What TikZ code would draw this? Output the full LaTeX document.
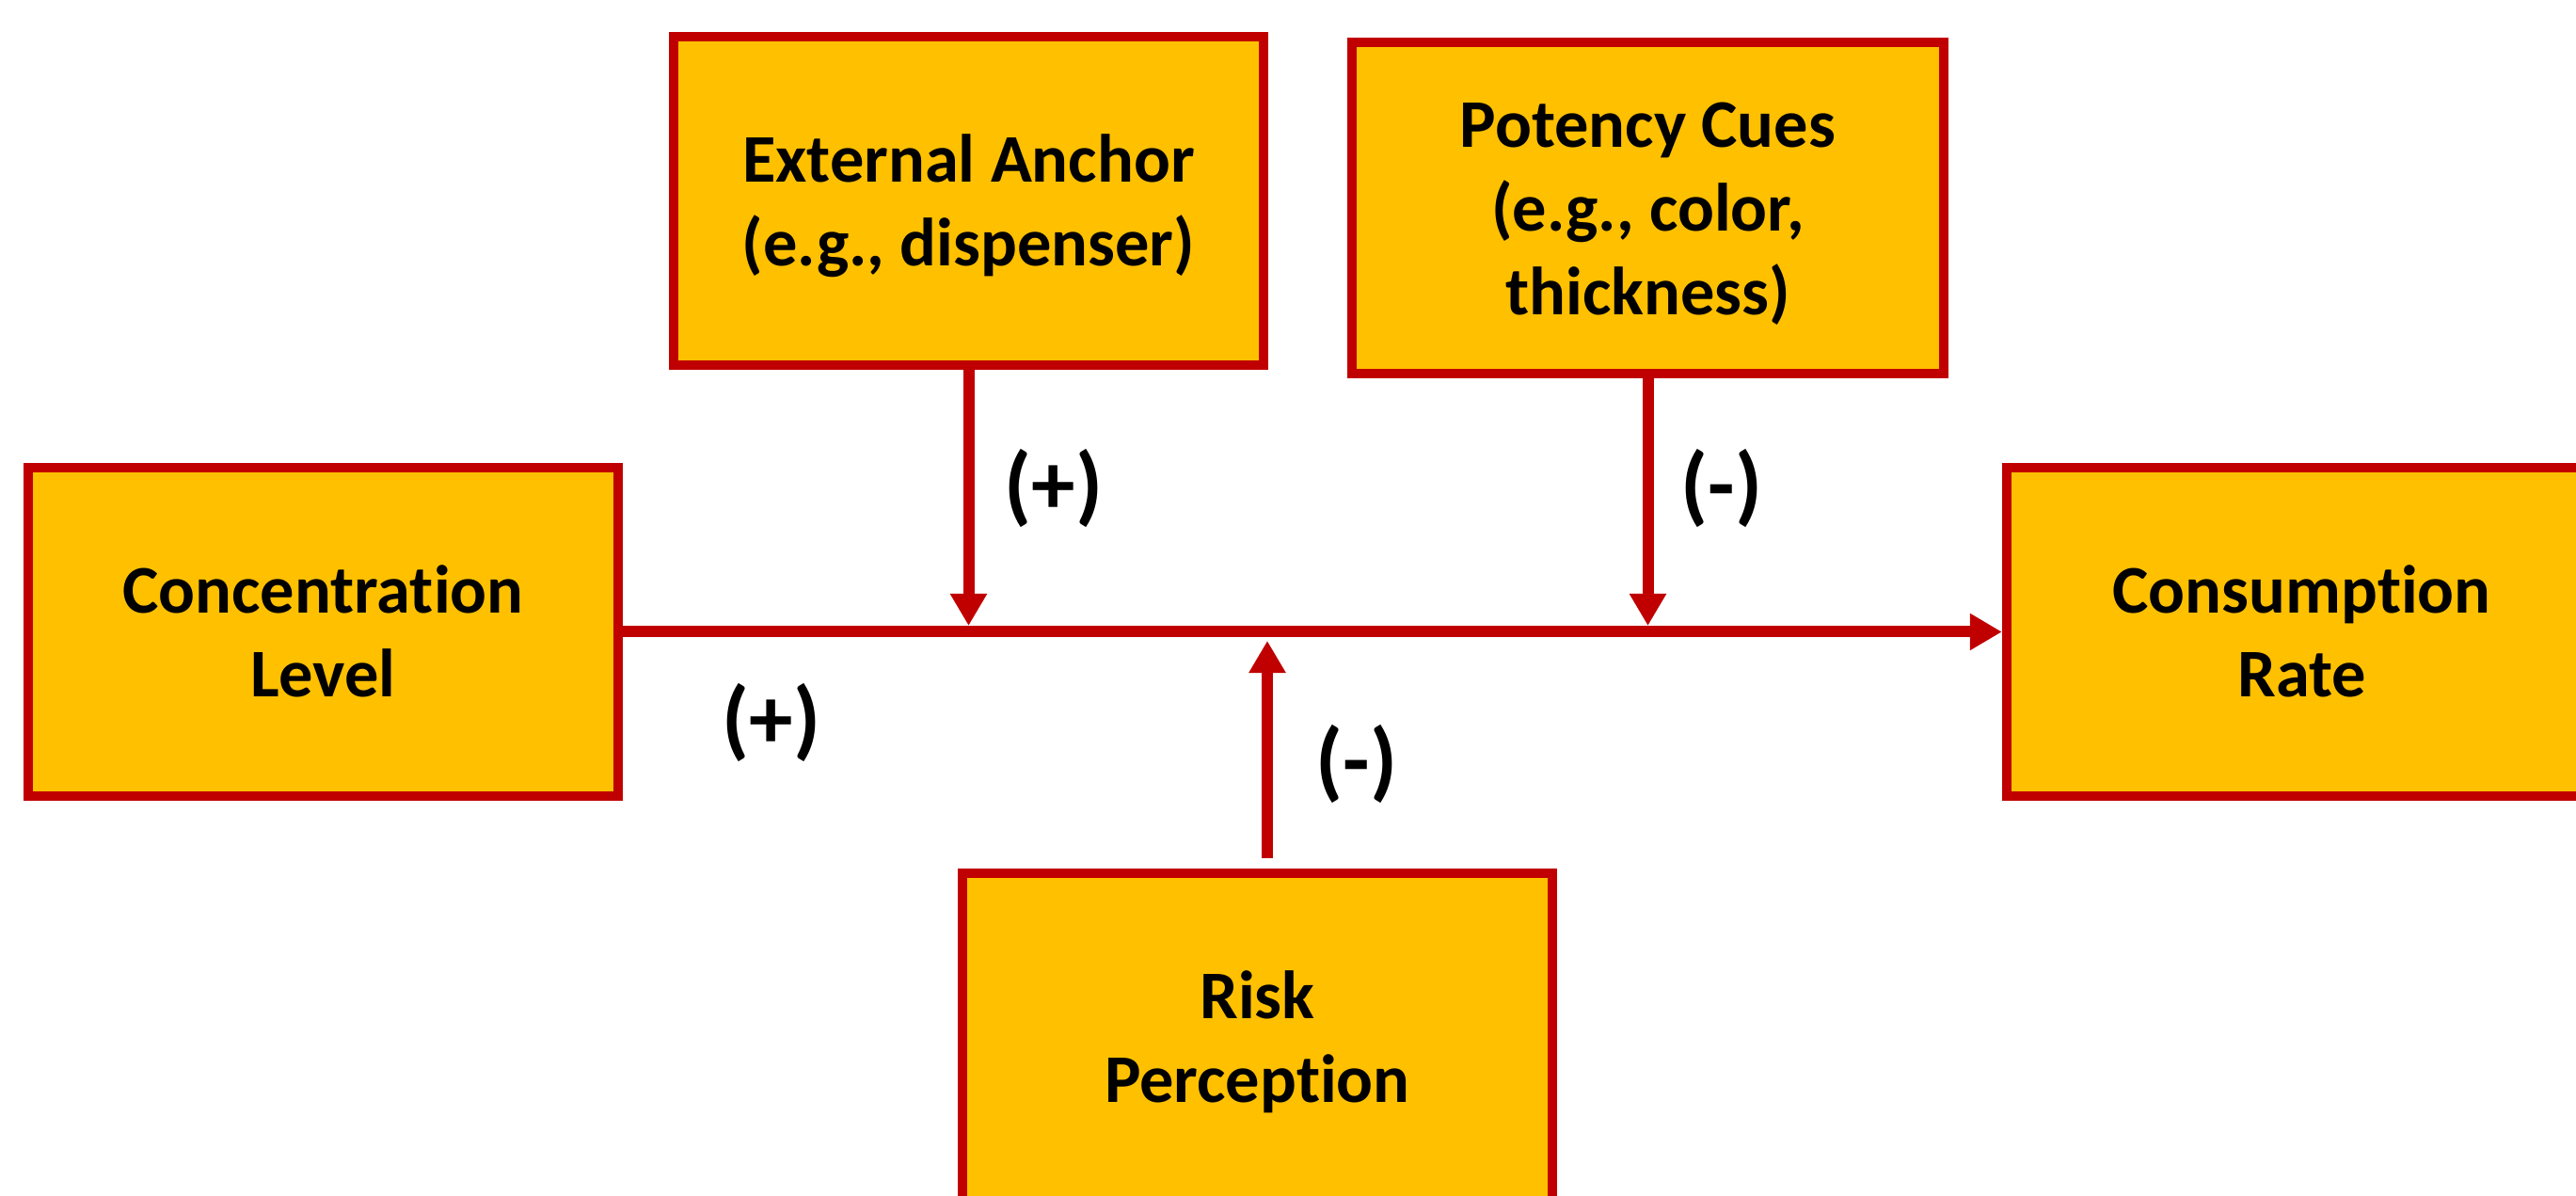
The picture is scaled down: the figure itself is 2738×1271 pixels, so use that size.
\documentclass[tikz,border=0pt]{standalone}
\usepackage{fontspec}
\setmainfont{Carlito}[Ligatures=NoCommon]
\usetikzlibrary{arrows.meta,calc}
\definecolor{bordred}{HTML}{C00000}
\definecolor{boxgold}{HTML}{FFC000}
\newcommand\sT{\rule{0pt}{0.95em}}
\newcommand\sB{\rule[-0.27em]{0pt}{0.27em}}
\begin{document}
\begin{tikzpicture}[x=0.01cm,y=-0.01cm,
  box/.style={draw=bordred, fill=boxgold, line width=0.1cm, minimum width=6.27cm,
    minimum height=3.49cm, inner sep=0pt, align=center,
    font=\fontsize{20.6pt}{25.2pt}\selectfont\bfseries},
  sign/.style={font=\fontsize{26.5pt}{30pt}\selectfont\bfseries, inner sep=0pt},
  link/.style={draw=bordred, line width=0.12cm, -{Triangle[length=0.34cm,width=0.37cm]}}]
\fill[white] (0,0) rectangle (2738,1271);
\useasboundingbox (0,0) rectangle (2738,1271);
\node[box] (conc) at (343.5,671.5) {\sT Concentration\\Level\sB};
\node[box] (cons) at (2446.5,671.5) {\sT Consumption\\Rate\sB};
\node[box] (ext) at (1029.5,213.5) {\sT External Anchor\\(e.g., dispenser)\sB};
\node[box, minimum width=6.29cm, minimum height=3.52cm] (pot) at (1751.5,221) {\sT Potency Cues\\(e.g., color,\\thickness)\sB};
\node[box] (risk) at (1336.5,1102.5) {\sT Risk\\Perception\sB};
\node[sign] (l1) at (1120,519) {(+)};
\node[sign] (l2) at (1830,519) {(-)};
\node[sign] (l3) at (820,768) {(+)};
\node[sign] (l4) at (1442,812) {(-)};
\coordinate (j1) at (ext.south |- 0,665);
\coordinate (j2) at (pot.south |- 0,665);
\coordinate (rs) at ($(risk.north)+(10.5,-11)$);
\coordinate (j3) at (rs |- 0,681);
\draw[link] (conc.east) -- (cons.west);
\draw[link] (ext.south) -- (j1);
\draw[link] (pot.south) -- (j2);
\draw[link] (rs) -- (j3);
\end{tikzpicture}
\end{document}
